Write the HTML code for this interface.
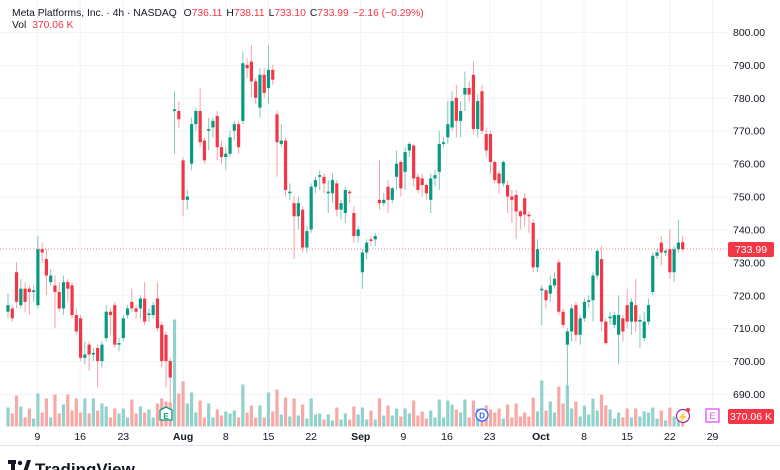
<!DOCTYPE html>
<html><head><meta charset="utf-8">
<style>
html,body{margin:0;padding:0;background:#fff;width:780px;height:470px;overflow:hidden;font-family:"Liberation Sans",sans-serif;}
svg text{font-family:"Liberation Sans",sans-serif;}
</style></head>
<body>
<svg id="chart" width="780" height="470" viewBox="0 0 780 470" xmlns="http://www.w3.org/2000/svg">
<rect width="780" height="470" fill="#fff"/>
<g id="grid"></g>
<g id="vols"></g>
<g id="candles"></g>
<line x1="0" y1="249" x2="728" y2="249" stroke="#f23645" stroke-width="1" stroke-dasharray="1,2" opacity="0.6"/>
<g id="yaxis"></g>
<g id="xaxis"></g>
<line x1="0" y1="445.5" x2="780" y2="445.5" stroke="#e0e3eb"/>
<g>
<text x="12" y="16" font-size="10.3" fill="#131722">Meta Platforms, Inc. · 4h · NASDAQ <tspan dx="4">O</tspan><tspan fill="#f23645">736.11</tspan><tspan dx="4">H</tspan><tspan fill="#f23645">738.11</tspan><tspan dx="4">L</tspan><tspan fill="#f23645">733.10</tspan><tspan dx="4">C</tspan><tspan fill="#f23645">733.99</tspan><tspan dx="4" fill="#f23645">−2.16 (−0.29%)</tspan></text>
<text x="12" y="28" font-size="10.3" fill="#131722">Vol <tspan fill="#f23645" dx="3">370.06 K</tspan></text>
</g>
<g>
<rect x="728" y="242" width="46" height="15" rx="2" fill="#f23645"/>
<text x="751" y="253" font-size="10.5" fill="#fff" text-anchor="middle">733.99</text>
</g>
<g>
<rect x="728" y="409" width="46" height="15" rx="2" fill="#f23645"/>
<text x="751" y="420" font-size="10.5" fill="#fff" text-anchor="middle">370.06 K</text>
</g>
<g>
<path d="M160 410 l6 -3 l6 3 v10 h-12 z" fill="#fff" stroke="#089981" stroke-width="1.3"/>
<text x="166" y="419" font-size="8" fill="#089981" text-anchor="middle" font-weight="bold">E</text>
</g>
<g>
<circle cx="482" cy="415" r="6" fill="#fff" stroke="#2962ff" stroke-width="1.3"/>
<text x="482" y="418.5" font-size="8" fill="#2962ff" text-anchor="middle" font-weight="bold">D</text>
</g>
<g>
<rect x="706" y="409" width="13" height="13" fill="#fff" stroke="#e040fb" stroke-width="1.2"/>
<text x="712.5" y="419" font-size="9" fill="#e040fb" text-anchor="middle">E</text>
</g>
<g>
<circle cx="683" cy="416" r="6.5" fill="#fff" stroke="#9c27b0" stroke-width="1.2"/>
<text x="683" y="420" font-size="9" fill="#9c27b0" text-anchor="middle">⚡</text>
<circle cx="688" cy="410" r="2" fill="#f23645"/>
</g>
<g>
<rect x="8" y="460" width="8" height="4" fill="#131722"/>
<rect x="11" y="460" width="4" height="12" fill="#131722"/>
<circle cx="20" cy="463" r="2.2" fill="#131722"/>
<path d="M23 472 l4 -12 h4 l-4 12 z" fill="#131722"/>
<text x="35" y="475" font-size="17" fill="#131722" font-weight="bold">TradingView</text>
</g>
</svg>
<script>
const opens=[715,716,727,717,722,722,721,717,734,731,724,723,721,716,724,723,714,713,701,705,702,704,700,707,715,717,705,707,714,718,716,716,719,714,714,719,711,708,700,776,776,761,749,760,772,776,767,770,771,774.5,765,762,763,770,772,773,790,791,785,777,787,783,788.5,775,766,767,751,748,744,746,734.5,740,753,756,756,751,751,754,746,745,751.5,745,738,727,733,737,737,749,748,753,749,756,760.5,757.5,764,765.5,756,755.5,753.5,749,755.5,757.5,766,768,771,780,773,781,783,787,770.5,782,769,769,760.5,757,754,753.5,750,750.5,745.5,749.5,744.5,742,728.5,721.5,721.5,720.5,723,730,715,705,709,717,708,713,718,718.5,726,731,712,713,711,708,713,717,712,717,712,707,712,721,732,736,733,734,727,734,736.11];
const closes=[717,713,718,722,718,721,721.5,734,733,726,726,721,716,724,722,714,709,701,702,702,702.5,700,705,715,714,705,705.5,713,716,716,715,719,712,714.5,717,710,700,700,695,776.5,773.5,749,750,772,776,766.5,761,770.5,773,765,762,763,768,772,765,790.5,789,785,780,787,781.5,788.5,785.5,766.5,767,752,751.5,744,748,734.5,739.5,753,755,756.5,754,751.5,755,746,748,752,751,738,740,733,736,736.5,738,748,749,749,752.5,760,752.5,763.5,766,755.5,752,753.5,751,755.5,756.5,766,766.5,772,779,773,776,783,781,770.5,779,770,764,760.5,755,754,760.5,750,749,745.5,744,744.5,744,728.5,734,722,718.5,723,725,715,711,709,716,708,713,718,718.5,726,733.5,712,705.5,713.5,714,714,709,712,718,712,712.5,712,717,732,733,733,733.5,727,734,736,733.99];
const highs=[720.5,717,730,725,724,723,723,738,736,734,728,726,724,726,725,724,716,714,706,706,704,705,706,717,716,718,707,714,717,722,717,720,724,716,718,724,712,709,701,782,779,762,752,774,777,783,768,774,774,776,767,765,770,773,773,794,792,796,786,789,789,796,790,776,772,768,754,750,750,747,741,754,756,758,757,755,757,755,749,753,752,747,741,734,737,738,739,761,751,755,753,764,761,765,766.5,766,757,757,754,757,758,770,768,779,782,784,779,788,785,791,781,784,771,770,761,758,761,755,752,752,746,751,745.5,743,737,723,722,726,727,731,716,710,717,718,714,719,720,727,734,735,713,715,715,720,714,722,719,725,714,715,719,733,734,738,734,740,735,743,738.11];
const lows=[713,712,716,716,715,714,718,716,730,720,723,710,715,714,718,713,708,700,699,697,700,692,698,706,708,704,703,706,713,715,713,713,711,712,713,709,698,692,687,763,771,744,746,758,770,765,760,764,768,761,760,758,762,767,763,772,786,780,778,774,780,778,784,756,765,750,749,731,740,733,733,739,751,752,751,745,748,744,743,742,748,736,736,722,731,735,735,746,747,745,748,752,750,752,762,753,751,750,749,745,753,752,765,766,770,768,768,776,779,769,768,769,762,757,754,751,753,745,742,737,740,741,739,727,727,711,716,718,722,714,710,691,706,706,705,712,716,712,725,709,705,711,710,699,706,710,708,709,704,706,711,720,731,729,732,725,724,733,733.10];
const volumesK=[437,299,713,460,207,414,184,759,322,644,207,736,299,506,736,368,644,322,644,299,644,368,529,460,207,414,299,414,207,621,299,460,322,391,207,529,644,575,552,2461,759,1035,529,782,322,598,207,529,207,391,253,345,299,368,207,966,322,483,207,483,207,782,345,851,276,667,230,644,253,506,184,644,276,299,161,276,138,437,161,299,161,460,276,437,161,368,161,644,253,483,253,414,230,414,299,598,253,345,184,368,207,621,207,598,506,391,322,621,207,598,414,276,483,391,322,414,184,506,207,529,230,322,230,667,345,1058,368,575,322,920,529,943,414,575,230,483,276,644,368,736,483,391,184,322,207,414,207,414,230,345,322,437,184,368,138,437,230,345,370];
const priceTicks=[800,790,780,770,760,750,740,730,720,710,700,690];
const dateLabels=["9","16","23","Aug","8","15","22","Sep","9","16","23","Oct","8","15","22","29"];
const dateIdx=[6.9,16.9,27,41,51,61,71,82.6,92.6,102.8,112.8,124.8,134.9,145,155,165];

const NS="http://www.w3.org/2000/svg";
function X(i){return 8+i*4.27;}
function Y(p){return 32+(800-p)*3.291;}
function VH(v){return v/23;}
const volBase=426.5;
function mk(tag,attrs,parent){const e=document.createElementNS(NS,tag);for(const k in attrs)e.setAttribute(k,attrs[k]);parent.appendChild(e);return e;}
const grid=document.getElementById('grid'),yax=document.getElementById('yaxis'),xax=document.getElementById('xaxis');
priceTicks.forEach(p=>{
  const l=mk('line',{x1:0,x2:728,y1:Y(p)+0.5,y2:Y(p)+0.5,stroke:'#f0f3fa'},grid);
  
  
  const t=mk('text',{x:733,y:Y(p)+4,'font-size':10.5,fill:'#131722'},yax);
  t.textContent=p.toFixed(2);
  
  
});
dateLabels.forEach((d,k)=>{
  const x=X(dateIdx[k]);
  const l=mk('line',{x1:x,x2:x,y1:0,y2:445,stroke:'#f0f3fa'},grid);
  
  
  const t=mk('text',{x:x,y:440,'font-size':10.5,fill:'#131722','text-anchor':'middle','font-weight':(d.length>2?'bold':'normal')},xax);
  t.textContent=d;
  
  
});
const vg=document.getElementById('vols'),cg=document.getElementById('candles');
for(let i=0;i<closes.length;i++){
  const up=closes[i]>=opens[i];
  const x=X(i);
  const h=VH(volumesK[i]);
  const vb=mk('rect',{x:x-1.6,y:volBase-h,width:3.2,height:h,fill:up?'#92d2cc':'#f7a9a7'},vg);
  
  
  const w=mk('line',{x1:x,x2:x,y1:Y(highs[i]),y2:Y(lows[i]),stroke:up?'#7fc7bb':'#f7a0a6','stroke-width':1},cg);
  
  
  const top=Y(Math.max(opens[i],closes[i])),bot=Y(Math.min(opens[i],closes[i]));
  const b=mk('rect',{x:x-1.6,y:top,width:3.2,height:Math.max(1,bot-top),fill:up?'#089981':'#f23645'},cg);
  
  
}
</script>
</body></html>
